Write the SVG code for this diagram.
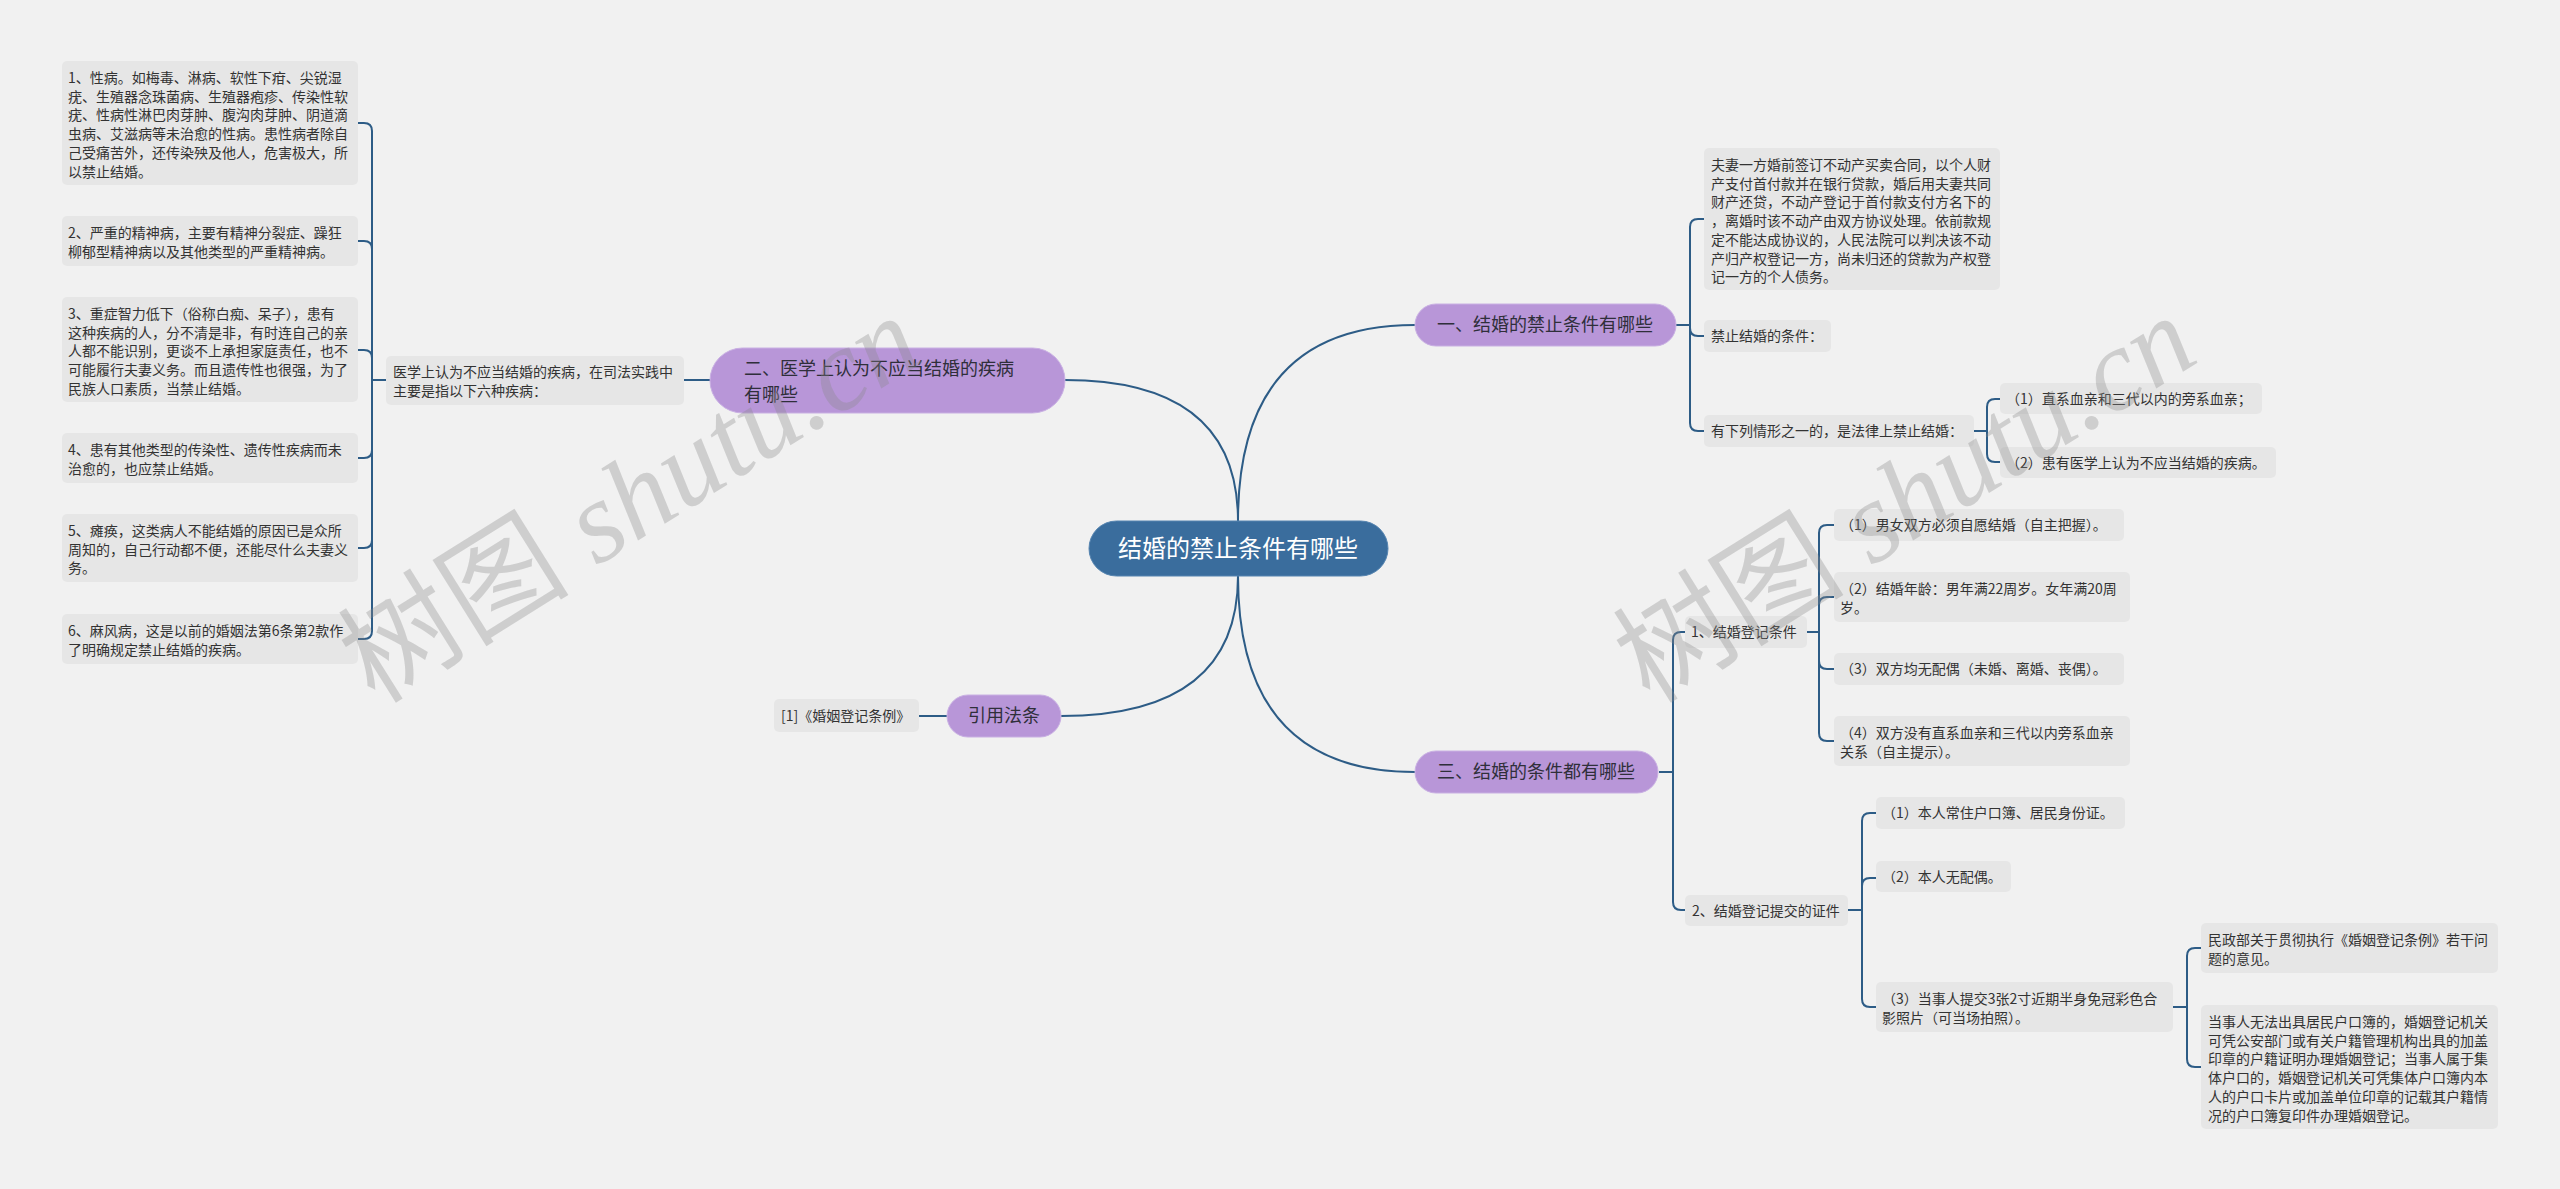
<svg xmlns="http://www.w3.org/2000/svg" width="2560" height="1189" viewBox="0 0 2560 1189">
<style>
.bg{fill:#f1f1f1}
.leaf{fill:#e6e6e6}
.lt{font-family:"Noto Sans CJK SC","Noto Sans",sans-serif;font-size:14px;fill:#333}
.main{fill:#b896d8;stroke:#c9b0e3;stroke-width:1}
.mt{font-family:"Noto Sans CJK SC","Noto Sans",sans-serif;font-size:18px;fill:#2f2f3a}
.root{fill:#3a6d9d;stroke:#5584b0;stroke-width:1}
.rt{font-family:"Noto Sans CJK SC","Noto Sans",sans-serif;font-size:24px;fill:#fff}
.c{fill:none;stroke:#2d5c86;stroke-width:2}
.wm{font-family:"Liberation Serif","Noto Sans CJK SC",serif;font-size:116px;fill:#8a8a8a;fill-opacity:0.33}
</style>
<rect class="bg" x="0" y="0" width="2560" height="1189"/>

<g id="connectors">
  <path class="c" d="M1238 521 Q1238 325 1415 325"/>
  <path class="c" d="M1238 521 Q1238 380 1065 380"/>
  <path class="c" d="M1238 576 Q1238 716 1061 716"/>
  <path class="c" d="M1238 576 Q1238 772 1415 772"/>
  <path class="c" d="M710 380 H684"/>
  <path class="c" d="M386 380 H372 V131 Q372 123 364 123 H358"/>
  <path class="c" d="M372 380 V249 Q372 241 364 241 H358"/>
  <path class="c" d="M372 380 V358 Q372 350 364 350 H358"/>
  <path class="c" d="M372 380 V450 Q372 458 364 458 H358"/>
  <path class="c" d="M372 380 V540 Q372 548 364 548 H358"/>
  <path class="c" d="M372 380 V631 Q372 639 364 639 H358"/>
  <path class="c" d="M947 716 H919"/>
  <path class="c" d="M1676 325 H1690 V227 Q1690 219 1698 219 H1704"/>
  <path class="c" d="M1690 325 V328 Q1690 336 1698 336 H1704"/>
  <path class="c" d="M1690 325 V423 Q1690 431 1698 431 H1704"/>
  <path class="c" d="M1974 431 H1987 V407 Q1987 399 1995 399 H2000"/>
  <path class="c" d="M1987 431 V454 Q1987 462 1995 462 H2000"/>
  <path class="c" d="M1659 772 H1673 V640 Q1673 632 1681 632 H1685"/>
  <path class="c" d="M1673 772 V902 Q1673 910 1681 910 H1685"/>
  <path class="c" d="M1807 632 H1819 V533 Q1819 525 1827 525 H1834"/>
  <path class="c" d="M1819 632 V605 Q1819 597 1827 597 H1834"/>
  <path class="c" d="M1819 632 V661 Q1819 669 1827 669 H1834"/>
  <path class="c" d="M1819 632 V733 Q1819 741 1827 741 H1834"/>
  <path class="c" d="M1848 910 H1862 V821 Q1862 813 1870 813 H1876"/>
  <path class="c" d="M1862 910 V886 Q1862 878 1870 878 H1876"/>
  <path class="c" d="M1862 910 V999 Q1862 1007 1870 1007 H1876"/>
  <path class="c" d="M2173 1007 H2187 V956 Q2187 948 2195 948 H2201"/>
  <path class="c" d="M2187 1007 V1059 Q2187 1067 2195 1067 H2201"/>
</g>

<g id="root">
  <rect class="root" x="1089" y="521" width="299" height="55" rx="27.5"/>
  <text class="rt" x="1238" y="557" text-anchor="middle">结婚的禁止条件有哪些</text>
</g>

<g id="n1">
  <rect class="main" x="1415" y="304" width="261" height="42" rx="21"/>
  <text class="mt" x="1545" y="331" text-anchor="middle">一、结婚的禁止条件有哪些</text>
</g>
<g id="n2">
  <rect class="main" x="710" y="348" width="355" height="65" rx="32.5"/>
  <text class="mt" x="744" y="375">二、医学上认为不应当结婚的疾病</text>
  <text class="mt" x="744" y="401">有哪些</text>
</g>
<g id="n3">
  <rect class="main" x="1415" y="751" width="243" height="42" rx="21"/>
  <text class="mt" x="1536" y="778" text-anchor="middle">三、结婚的条件都有哪些</text>
</g>
<g id="n4">
  <rect class="main" x="947" y="695" width="114" height="42" rx="21"/>
  <text class="mt" x="1004" y="722" text-anchor="middle">引用法条</text>
</g>

<g id="l-med">
  <rect class="leaf" x="386" y="356" width="298" height="49" rx="5"/>
  <text class="lt" x="393" y="377">医学上认为不应当结婚的疾病，在司法实践中</text>
  <text class="lt" x="393" y="396">主要是指以下六种疾病：</text>
</g>
<g id="l1">
  <rect class="leaf" x="62" y="61" width="296" height="124" rx="5"/>
  <text class="lt" x="68" y="83">1、性病。如梅毒、淋病、软性下疳、尖锐湿</text>
  <text class="lt" x="68" y="101.7">疣、生殖器念珠菌病、生殖器疱疹、传染性软</text>
  <text class="lt" x="68" y="120.4">疣、性病性淋巴肉芽肿、腹沟肉芽肿、阴道滴</text>
  <text class="lt" x="68" y="139.1">虫病、艾滋病等未治愈的性病。患性病者除自</text>
  <text class="lt" x="68" y="157.8">己受痛苦外，还传染殃及他人，危害极大，所</text>
  <text class="lt" x="68" y="176.5">以禁止结婚。</text>
</g>
<g id="l2">
  <rect class="leaf" x="62" y="216" width="296" height="50" rx="5"/>
  <text class="lt" x="68" y="238">2、严重的精神病，主要有精神分裂症、躁狂</text>
  <text class="lt" x="68" y="256.7">柳郁型精神病以及其他类型的严重精神病。</text>
</g>
<g id="l3">
  <rect class="leaf" x="62" y="297" width="296" height="105" rx="5"/>
  <text class="lt" x="68" y="319">3、重症智力低下（俗称白痴、呆子），患有</text>
  <text class="lt" x="68" y="337.7">这种疾病的人，分不清是非，有时连自己的亲</text>
  <text class="lt" x="68" y="356.4">人都不能识别，更谈不上承担家庭责任，也不</text>
  <text class="lt" x="68" y="375.1">可能履行夫妻义务。而且遗传性也很强，为了</text>
  <text class="lt" x="68" y="393.8">民族人口素质，当禁止结婚。</text>
</g>
<g id="l4">
  <rect class="leaf" x="62" y="433" width="296" height="50" rx="5"/>
  <text class="lt" x="68" y="455">4、患有其他类型的传染性、遗传性疾病而未</text>
  <text class="lt" x="68" y="473.7">治愈的，也应禁止结婚。</text>
</g>
<g id="l5">
  <rect class="leaf" x="62" y="514" width="296" height="68" rx="5"/>
  <text class="lt" x="68" y="536">5、瘫痪，这类病人不能结婚的原因已是众所</text>
  <text class="lt" x="68" y="554.7">周知的，自己行动都不便，还能尽什么夫妻义</text>
  <text class="lt" x="68" y="573.4">务。</text>
</g>
<g id="l6">
  <rect class="leaf" x="62" y="614" width="296" height="50" rx="5"/>
  <text class="lt" x="68" y="636">6、麻风病，这是以前的婚姻法第6条第2款作</text>
  <text class="lt" x="68" y="654.7">了明确规定禁止结婚的疾病。</text>
</g>
<g id="l-ref">
  <rect class="leaf" x="774" y="699" width="145" height="33" rx="5"/>
  <text class="lt" x="781" y="721">[1]《婚姻登记条例》</text>
</g>

<g id="r-a">
  <rect class="leaf" x="1704" y="148" width="296" height="142" rx="5"/>
  <text class="lt" x="1711" y="170">夫妻一方婚前签订不动产买卖合同，以个人财</text>
  <text class="lt" x="1711" y="188.7">产支付首付款并在银行贷款，婚后用夫妻共同</text>
  <text class="lt" x="1711" y="207.4">财产还贷，不动产登记于首付款支付方名下的</text>
  <text class="lt" x="1711" y="226.1">，离婚时该不动产由双方协议处理。依前款规</text>
  <text class="lt" x="1711" y="244.8">定不能达成协议的，人民法院可以判决该不动</text>
  <text class="lt" x="1711" y="263.5">产归产权登记一方，尚未归还的贷款为产权登</text>
  <text class="lt" x="1711" y="282.2">记一方的个人债务。</text>
</g>
<g id="r-b">
  <rect class="leaf" x="1704" y="320" width="127" height="32" rx="5"/>
  <text class="lt" x="1711" y="341">禁止结婚的条件：</text>
</g>
<g id="r-c">
  <rect class="leaf" x="1704" y="415" width="270" height="32" rx="5"/>
  <text class="lt" x="1711" y="436">有下列情形之一的，是法律上禁止结婚：</text>
</g>
<g id="r-c1">
  <rect class="leaf" x="2000" y="383" width="262" height="31" rx="5"/>
  <text class="lt" x="2006" y="404">（1）直系血亲和三代以内的旁系血亲；</text>
</g>
<g id="r-c2">
  <rect class="leaf" x="2000" y="447" width="276" height="31" rx="5"/>
  <text class="lt" x="2006" y="468">（2）患有医学上认为不应当结婚的疾病。</text>
</g>

<g id="r-d">
  <rect class="leaf" x="1685" y="616" width="122" height="32" rx="5"/>
  <text class="lt" x="1691" y="637">1、结婚登记条件</text>
</g>
<g id="r-d1">
  <rect class="leaf" x="1834" y="509" width="290" height="32" rx="5"/>
  <text class="lt" x="1840" y="530">（1）男女双方必须自愿结婚（自主把握）。</text>
</g>
<g id="r-d2">
  <rect class="leaf" x="1834" y="572" width="296" height="50" rx="5"/>
  <text class="lt" x="1840" y="594">（2）结婚年龄：男年满22周岁。女年满20周</text>
  <text class="lt" x="1840" y="612.7">岁。</text>
</g>
<g id="r-d3">
  <rect class="leaf" x="1834" y="653" width="290" height="32" rx="5"/>
  <text class="lt" x="1840" y="674">（3）双方均无配偶（未婚、离婚、丧偶）。</text>
</g>
<g id="r-d4">
  <rect class="leaf" x="1834" y="716" width="296" height="50" rx="5"/>
  <text class="lt" x="1840" y="738">（4）双方没有直系血亲和三代以内旁系血亲</text>
  <text class="lt" x="1840" y="756.7">关系（自主提示）。</text>
</g>
<g id="r-e">
  <rect class="leaf" x="1685" y="895" width="163" height="31" rx="5"/>
  <text class="lt" x="1692" y="916">2、结婚登记提交的证件</text>
</g>
<g id="r-e1">
  <rect class="leaf" x="1876" y="797" width="249" height="32" rx="5"/>
  <text class="lt" x="1882" y="818">（1）本人常住户口簿、居民身份证。</text>
</g>
<g id="r-e2">
  <rect class="leaf" x="1876" y="861" width="135" height="31" rx="5"/>
  <text class="lt" x="1882" y="882">（2）本人无配偶。</text>
</g>
<g id="r-e3">
  <rect class="leaf" x="1876" y="982" width="297" height="50" rx="5"/>
  <text class="lt" x="1882" y="1004">（3）当事人提交3张2寸近期半身免冠彩色合</text>
  <text class="lt" x="1882" y="1022.7">影照片（可当场拍照）。</text>
</g>
<g id="r-e31">
  <rect class="leaf" x="2201" y="923" width="297" height="50" rx="5"/>
  <text class="lt" x="2208" y="945">民政部关于贯彻执行《婚姻登记条例》若干问</text>
  <text class="lt" x="2208" y="963.7">题的意见。</text>
</g>
<g id="r-e32">
  <rect class="leaf" x="2201" y="1005" width="297" height="124" rx="5"/>
  <text class="lt" x="2208" y="1027">当事人无法出具居民户口簿的，婚姻登记机关</text>
  <text class="lt" x="2208" y="1045.7">可凭公安部门或有关户籍管理机构出具的加盖</text>
  <text class="lt" x="2208" y="1064.4">印章的户籍证明办理婚姻登记；当事人属于集</text>
  <text class="lt" x="2208" y="1083.1">体户口的，婚姻登记机关可凭集体户口簿内本</text>
  <text class="lt" x="2208" y="1101.8">人的户口卡片或加盖单位印章的记载其户籍情</text>
  <text class="lt" x="2208" y="1120.5">况的户口簿复印件办理婚姻登记。</text>
</g>

<g id="watermarks">
  <text class="wm" transform="translate(375 705) rotate(-32)">树图 <tspan font-style="italic">shutu.cn</tspan></text>
  <text class="wm" transform="translate(1650 705) rotate(-32)">树图 <tspan font-style="italic">shutu.cn</tspan></text>
</g>
</svg>
